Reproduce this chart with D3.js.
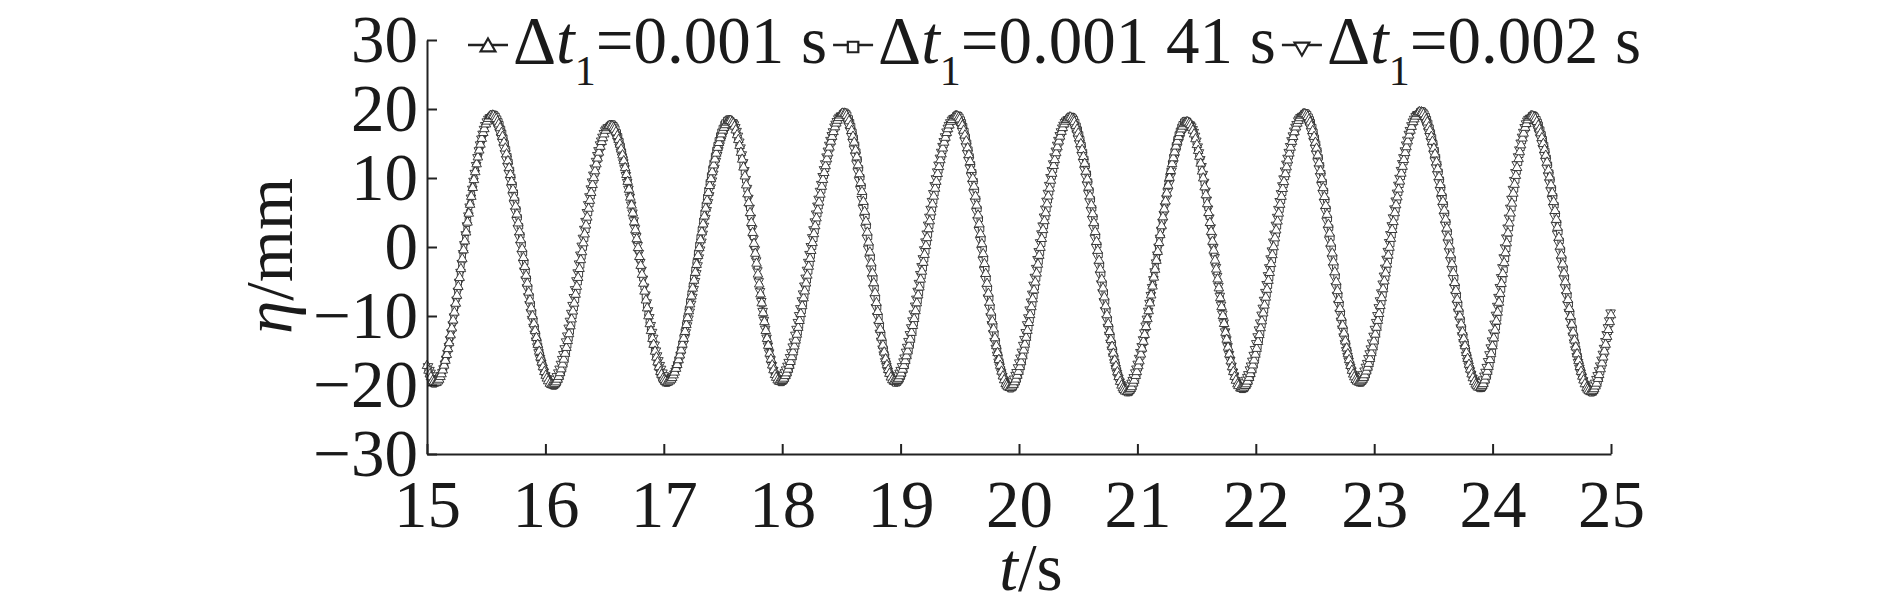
<!DOCTYPE html>
<html>
<head>
<meta charset="utf-8">
<script src="https://cdn.jsdelivr.net/npm/d3@7"></script>
<style>
body { margin: 0; background: #fff; }
text { font-family: "Liberation Serif", "Times New Roman", serif; fill: #1a1a1a; }
</style>
</head>
<body>
<svg width="1890" height="615"></svg>
<script>
// knots: start, then trough / crest pairs, then the end
var timesA = [15.0, 15.07, 15.55, 16.06, 16.55, 17.03, 17.56, 17.98, 18.52, 18.95, 19.47, 19.92,
    20.43, 20.91, 21.42, 21.88, 22.41, 22.87, 23.39, 23.89, 24.33, 24.83, 25.0];
var etaA = [-17.2, -19.7, 19.1, -20.0, 17.6, -19.6, 18.3, -19.5, 19.4, -19.5, 19.0, -20.4,
    18.8, -21.0, 18.1, -20.5, 19.3, -19.6, 19.6, -20.4, 19.0, -21.0, -9.8];

var timesB = [15.0, 15.06, 15.56, 16.07, 16.56, 17.02, 17.55, 17.99, 18.53, 18.96, 19.48, 19.93,
    20.44, 20.92, 21.41, 21.89, 22.42, 22.88, 23.40, 23.90, 24.34, 24.84, 25.0];
var etaB = [-17.6, -19.9, 19.3, -20.2, 17.9, -19.8, 18.6, -19.7, 19.6, -19.8, 19.2, -20.6,
    19.0, -21.2, 18.4, -20.7, 19.5, -19.8, 19.8, -20.6, 19.2, -21.2, -10.4];

var timesC = [15.0, 15.08, 15.54, 16.05, 16.54, 17.04, 17.57, 17.97, 18.51, 18.94, 19.46, 19.91,
    20.42, 20.90, 21.43, 21.87, 22.40, 22.86, 23.38, 23.88, 24.32, 24.82, 25.0];
var etaC = [-16.9, -19.4, 18.8, -19.7, 17.4, -19.3, 18.1, -19.2, 19.1, -19.3, 18.7, -20.1,
    18.5, -20.7, 17.8, -20.2, 19.0, -19.3, 19.3, -20.1, 18.7, -20.7, -9.2];

var stepNames = ["0.001 s", "0.001 41 s", "0.002 s"];
var xTicks = [15, 16, 17, 18, 19, 20, 21, 22, 23, 24, 25];
var yTicks = [-30, -20, -10, 0, 10, 20, 30];

var serif = "'Liberation Serif', 'Times New Roman', serif";
var fontSize = 67;

var svg = d3.select("svg");

var x = d3.scaleLinear().domain([15, 25]).range([427, 1611]);
var y = d3.scaleLinear().domain([-30, 30]).range([454, 40]);

var series = [
    {t: timesA, v: etaA, shape: d3.symbolTriangle, rot: 0, offset: 0.0},
    {t: timesB, v: etaB, shape: d3.symbolSquare, rot: 0, offset: 0.0037},
    {t: timesC, v: etaC, shape: d3.symbolTriangle, rot: 180, offset: 0.0073}
];

var line = d3.line()
    .x(function(d) { return x(d[0]); })
    .y(function(d) { return y(d[1]); })
    .curve(d3.curveMonotoneX);

var plot = svg.append("g").attr("class", "plot");

// draw the lines, then put markers at equal time steps along each one
series.forEach(function(s) {
    var pts = s.t.map(function(t, i) { return [t, s.v[i]]; });
    s.path = plot.append("path")
        .attr("d", line(pts))
        .attr("fill", "none")
        .attr("stroke", "#444")
        .attr("stroke-width", 1.2);
});

var bisectX = d3.bisector(function(p) { return p.x; }).left;

series.slice().reverse().forEach(function(s) {
    var node = s.path.node();
    var len = node.getTotalLength();
    var samples = [];
    for (var l = 0; l <= len; l += 1) samples.push(node.getPointAtLength(l));

    var marks = [];
    for (var t = 15 + s.offset; t <= 25; t += 0.011) {
        var i = Math.min(bisectX(samples, x(t)), samples.length - 1);
        marks.push(samples[i]);
    }
    plot.append("g").selectAll("path")
        .data(marks)
        .enter().append("path")
        .attr("d", d3.symbol().type(s.shape).size(s.shape === d3.symbolSquare ? 30 : 40))
        .attr("transform", function(p) { return "translate(" + p.x + "," + p.y + ") rotate(" + s.rot + ")"; })
        .attr("fill", "#fff")
        .attr("stroke", "#2a2a2a")
        .attr("stroke-width", 0.9);
});

// axes, ticks pointing inwards
var xAxis = svg.append("g")
    .attr("transform", "translate(0," + y(-30) + ")")
    .call(d3.axisBottom(x).tickValues(xTicks).tickFormat(d3.format("d"))
        .tickSize(-10).tickSizeOuter(0).tickPadding(25));

var yAxis = svg.append("g")
    .attr("transform", "translate(" + x(15) + ",0)")
    .call(d3.axisLeft(y).tickValues(yTicks).tickFormat(function(d) { return d < 0 ? "\u2212" + (-d) : d; })
        .tickSize(-10).tickSizeOuter(0).tickPadding(9));

[xAxis, yAxis].forEach(function(a) {
    a.attr("font-family", serif).attr("font-size", fontSize);
    a.selectAll("path, line").attr("stroke", "#222").attr("stroke-width", 2);
    a.selectAll("text").attr("fill", "#1a1a1a");
});

// axis titles
var xTitle = svg.append("text")
    .attr("x", (x(15) + x(25)) / 2 + 12)
    .attr("y", 590)
    .attr("text-anchor", "middle")
    .attr("font-size", fontSize);
xTitle.append("tspan").attr("font-style", "italic").text("t");
xTitle.append("tspan").text("/s");

var yTitle = svg.append("text")
    .attr("transform", "translate(292,256) rotate(-90)")
    .attr("text-anchor", "middle")
    .attr("font-size", fontSize);
yTitle.append("tspan").attr("font-style", "italic").text("\u03b7");
yTitle.append("tspan").text("/mm");

// legend in one row above the plot
var legend = svg.append("g").attr("class", "legend");
var lx = 468;
series.forEach(function(s, i) {
    var item = legend.append("g");
    item.append("line")
        .attr("x1", lx).attr("x2", lx + 40)
        .attr("y1", 45).attr("y2", 45)
        .attr("stroke", "#222").attr("stroke-width", 2.5);
    item.append("path")
        .attr("d", d3.symbol().type(s.shape).size(s.shape === d3.symbolSquare ? 110 : 95))
        .attr("transform", "translate(" + (lx + 20) + ",47) rotate(" + s.rot + ")")
        .attr("fill", "#fff")
        .attr("stroke", "#222")
        .attr("stroke-width", 2.2);
    var txt = item.append("text")
        .attr("x", lx + 45)
        .attr("y", 63)
        .attr("font-size", fontSize);
    txt.append("tspan").text("\u0394");
    txt.append("tspan").attr("font-style", "italic").text("t");
    txt.append("tspan").attr("font-size", 42).attr("dy", 22).text("1");
    txt.append("tspan").attr("dy", -22).text("=" + stepNames[i]);
    lx = lx + 45 + txt.node().getComputedTextLength() + 6;
});
</script>
</body>
</html>
